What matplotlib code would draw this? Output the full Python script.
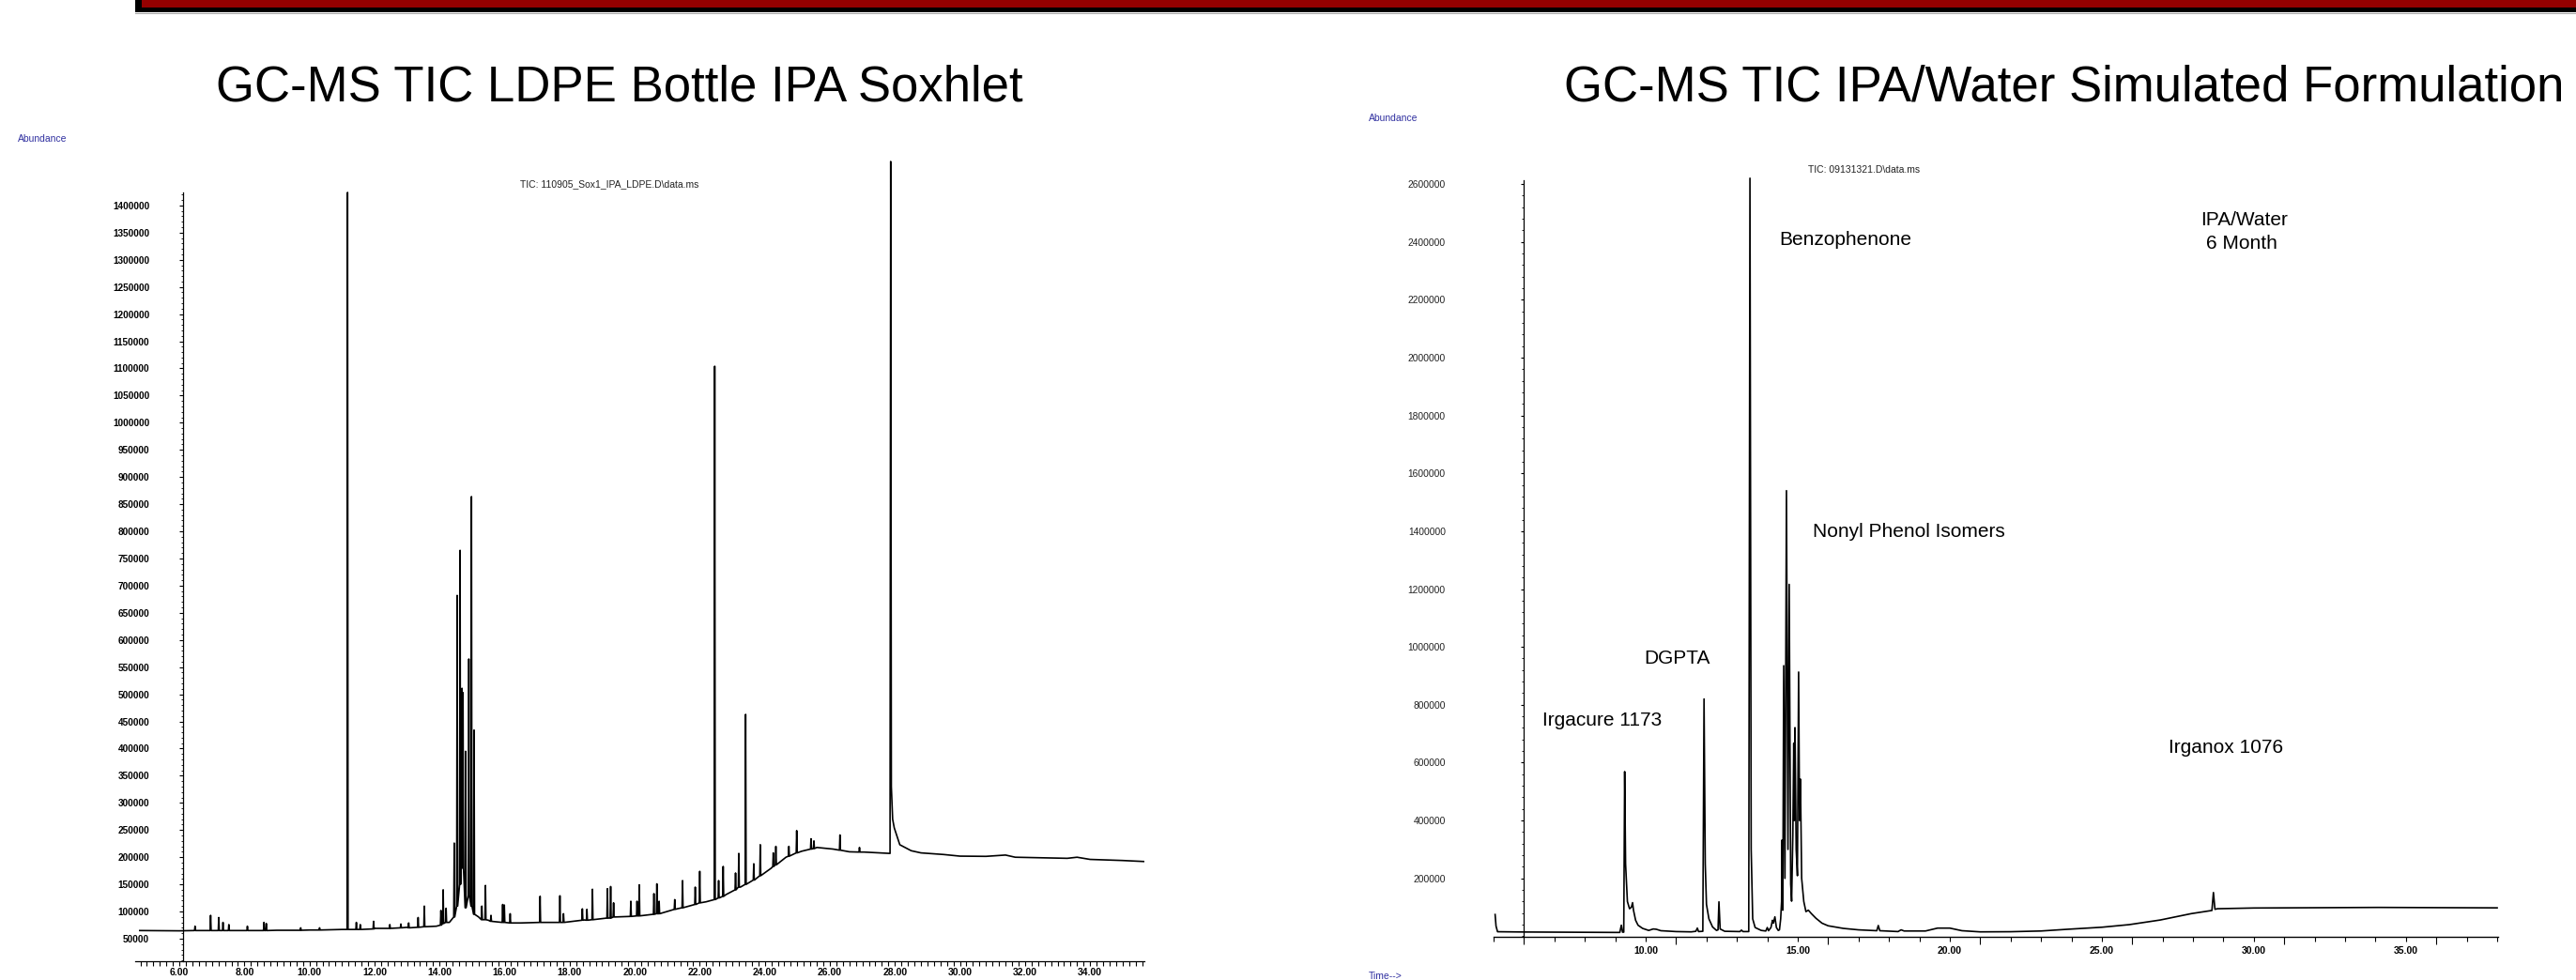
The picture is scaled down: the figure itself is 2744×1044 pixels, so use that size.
import numpy as np
import matplotlib
matplotlib.use("Agg")
import matplotlib.pyplot as plt
from matplotlib.patches import Rectangle
from matplotlib.lines import Line2D

plt.rcParams['font.family'] = ['Liberation Sans', 'DejaVu Sans']

# --- Left chromatogram: LDPE bottle IPA soxhlet (time in min, abundance) ---
left_base_t = [4.78, 6.0, 7.0, 8.0, 9.0, 10.0, 11.0, 12.0, 13.0, 13.9, 14.3, 15.2, 15.5,
               16.5, 17.4, 18.45, 19.4, 20.3, 21.3, 22.2, 22.8, 23.25, 23.7, 24.2, 24.65,
               25.13, 25.6, 26.1, 26.6, 27.05, 27.5, 27.85, 27.87, 27.89, 27.93, 27.98,
               28.15, 28.5, 28.8, 29.5, 30.0, 30.8, 31.4, 31.7, 32.5, 33.3, 33.6, 34.0,
               35.0, 35.7]
left_base_v = [65000, 64500, 65000, 65000, 65500, 66000, 67000, 69000, 71000, 73000, 80000,
               90000, 84000, 79000, 80000, 84500, 90000, 93000, 105000, 118000, 131000,
               145000, 159000, 180000, 200000, 211000, 218000, 215000, 210000, 209500,
               208000, 207000, 1481000, 330000, 270000, 254000, 223000, 212000, 208000,
               205000, 202000, 201600, 204000, 200000, 199000, 198000, 200000, 196000,
               194000, 192000]

left_peak_t = [6.48, 6.96, 7.21, 7.34, 7.52, 8.09, 8.6, 8.67, 9.73, 10.31, 11.17, 11.44,
               11.56, 11.97, 12.47, 12.81, 13.05, 13.34, 13.53, 14.04, 14.11, 14.2, 14.45,
               14.54, 14.63, 14.69, 14.72, 14.8, 14.9, 14.98, 15.06, 15.3, 15.41, 15.58,
               15.94, 15.99, 16.17, 17.09, 17.7, 17.81, 18.39, 18.53, 18.7, 19.16, 19.26,
               19.35, 19.88, 20.07, 20.14, 20.59, 20.68, 20.75, 21.23, 21.47, 21.86, 22.0,
               22.46, 22.58, 22.72, 23.1, 23.2, 23.41, 23.66, 23.86, 24.26, 24.34, 24.74,
               24.98, 25.42, 25.51, 26.31, 26.91]
left_peak_top = [73000, 93000, 89000, 80000, 76000, 73000, 80000, 78000, 70000, 70000,
                 1424000, 80000, 76000, 82000, 76000, 77000, 79000, 89000, 110000, 102000,
                 140000, 106000, 226000, 682000, 765000, 511000, 503000, 395000, 565000,
                 864000, 434000, 110000, 148000, 93000, 113000, 112000, 96000, 128000,
                 129000, 96000, 105000, 104000, 141000, 142000, 146000, 116000, 119000,
                 119000, 149000, 133000, 151000, 119000, 122000, 157000, 145000, 174000,
                 1104000, 157000, 183000, 171000, 207000, 463000, 188000, 223000, 208000,
                 220000, 220000, 249000, 234000, 230000, 241000, 218000]
left_peak_foot = [65000, 65000, 65000, 65000, 65000, 65000, 65000, 65000, 65500, 66000,
                  67000, 67000, 67000, 68000, 69000, 70000, 70000, 71000, 72000, 75000,
                  78000, 80000, 90000, 110000, 150000, 200000, 180000, 107000, 130000,
                  110000, 95000, 85000, 85000, 82000, 80000, 80000, 79000, 80000, 80000,
                  80000, 84000, 84000, 85000, 88000, 88000, 90000, 91000, 92000, 92000,
                  95000, 96000, 96000, 104000, 107000, 113000, 116000, 122000, 125000,
                  128000, 140000, 145000, 150000, 158000, 166000, 183000, 186000, 202000,
                  208000, 215000, 216000, 213000, 209500]

left_xtick_vals = [6, 8, 10, 12, 14, 16, 18, 20, 22, 24, 26, 28, 30, 32, 34]
left_xtick_labels = ["6.00", "8.00", "10.00", "12.00", "14.00", "16.00", "18.00", "20.00",
                     "22.00", "24.00", "26.00", "28.00", "30.00", "32.00", "34.00"]
left_ytick_vals = list(range(50000, 1400001, 50000))
left_ytick_labels = [str(v) for v in left_ytick_vals]

# --- Right chromatogram: IPA/Water simulated formulation ---
right_t = [5.05, 5.08, 5.13, 6.0, 7.0, 8.0, 9.0, 9.15, 9.2, 9.24, 9.28, 9.31, 9.34, 9.4,
           9.47, 9.53, 9.57, 9.6, 9.67, 9.75, 9.9, 10.1, 10.25, 10.35, 10.5, 11.0, 11.5,
           11.65, 11.7, 11.74, 11.88, 11.92, 11.96, 12.0, 12.08, 12.2, 12.33, 12.38, 12.41,
           12.45, 12.6, 13.1, 13.15, 13.2, 13.39, 13.43, 13.47, 13.52, 13.6, 13.8, 13.95,
           14.0, 14.04, 14.12, 14.17, 14.2, 14.25, 14.3, 14.36, 14.4, 14.44, 14.47, 14.48,
           14.51, 14.54, 14.58, 14.63, 14.68, 14.72, 14.77, 14.8, 14.84, 14.87, 14.89,
           14.91, 14.95, 14.99, 15.03, 15.06, 15.09, 15.13, 15.2, 15.27, 15.35, 15.45,
           15.6, 15.8, 16.0, 16.5, 17.0, 17.6, 17.65, 17.7, 18.3, 18.4, 18.5, 19.2, 19.6,
           20.0, 20.4, 21.0, 22.0, 23.0, 23.85, 25.0, 25.9, 26.92, 27.94, 28.62, 28.67,
           28.72, 28.8, 30.0, 34.1, 38.0]
right_v = [75000, 35000, 15500, 14500, 14000, 13500, 13000, 13000, 38000, 14000, 14000,
           569000, 250000, 120000, 95000, 100000, 116000, 90000, 55000, 38000, 27000,
           20000, 25000, 24000, 19000, 16000, 15000, 17000, 28000, 16000, 17000, 820000,
           250000, 110000, 60000, 32000, 20000, 22000, 119000, 25000, 17000, 16000, 21000,
           16000, 16000, 2620000, 300000, 60000, 30000, 20000, 18000, 30000, 19000, 30000,
           55000, 45000, 67000, 30000, 20000, 22000, 60000, 120000, 332000, 90000, 935000,
           200000, 1540000, 300000, 1216000, 180000, 121000, 350000, 667000, 400000,
           721000, 300000, 209000, 913000, 400000, 543000, 200000, 120000, 85000, 90000,
           78000, 62000, 45000, 36000, 27000, 22000, 19000, 37000, 19000, 16000, 22000,
           18000, 18000, 28000, 28000, 19000, 15000, 15500, 18000, 23800, 31000, 40000,
           56000, 78000, 89000, 151000, 93000, 95000, 97500, 99500, 98000]

right_xtick_major = [6, 11, 16, 21, 26, 31, 36]
right_xtick_minor = [5, 7, 8, 9, 10, 12, 13, 14, 15, 17, 18, 19, 20, 22, 23, 24, 25, 27,
                     28, 29, 30, 32, 33, 34, 35, 37, 38]
right_xtick_minor_labels = [f"{t:.2f}" if t % 5 == 0 and t >= 10 else ""
                            for t in right_xtick_minor]
right_ytick_vals = list(range(200000, 2600001, 200000))
right_ytick_labels = [str(v) for v in right_ytick_vals]

annotations = [("Benzophenone", 14.4, 2389000), ("IPA/Water", 28.25, 2457000),
               ("6 Month", 28.43, 2376000), ("Nonyl Phenol Isomers", 15.49, 1378500),
               ("DGPTA", 9.94, 943000), ("Irgacure 1173", 6.62, 729000),
               ("Irganox 1076", 27.2, 635000)]

# --- build the left trace: baseline knots plus narrow spikes ---
half_w = 0.015
pts = list(zip(left_base_t, left_base_v))
for t, top, foot in zip(left_peak_t, left_peak_top, left_peak_foot):
    pts += [(t - half_w, foot), (t, top), (t + half_w, foot)]
pts.sort()
left_t = [p[0] for p in pts]
left_v = [p[1] for p in pts]

W, H = 2744, 1044
fig = plt.figure(figsize=(W / 100, H / 100), dpi=100)


def fx(px):
    return px / W


def fy(py):
    return 1 - py / H


# --- slide decoration ---
fig.add_artist(Rectangle((fx(144), fy(12.5)), 1 - fx(144), 12.5 / H,
                         transform=fig.transFigure, color="black", lw=0))
fig.add_artist(Rectangle((fx(151), fy(8)), 1 - fx(151), 8 / H + 0.002,
                         transform=fig.transFigure, color="#950000", lw=0))
fig.add_artist(Line2D([fx(144), 1], [fy(13.5)] * 2, transform=fig.transFigure,
                      color="#aaaaaa", lw=0.8))

fig.text(fx(660), fy(108), "GC-MS TIC LDPE Bottle IPA Soxhlet", ha="center",
         va="baseline", fontsize=38)
fig.text(fx(1666), fy(108), "GC-MS TIC IPA/Water Simulated Formulation", ha="left",
         va="baseline", fontsize=38)

blue = "#3030a0"
fig.text(fx(19), fy(148), "Abundance", color=blue, fontsize=7.5, va="center")
fig.text(fx(1458), fy(126), "Abundance", color=blue, fontsize=7.5, va="center")
fig.text(fx(1458), fy(1040), "Time-->", color=blue, fontsize=7.5, va="center")
fig.text(fx(649), fy(196), "TIC: 110905_Sox1_IPA_LDPE.D\\data.ms", ha="center",
         va="center", fontsize=7.5, color="#222222")
fig.text(fx(1985.5), fy(181), "TIC: 09131321.D\\data.ms", ha="center", va="center",
         fontsize=7.5, color="#222222")

# --- left chart ---
axL = fig.add_axes([fx(144), fy(1024), (1219 - 144) / W, (1024 - 170) / H])
axL.patch.set_alpha(0)
axL.plot(left_t, left_v, color="black", lw=1.2)
axL.set_xlim(4.64, 35.67)
axL.set_ylim(8520, 1484500)
axL.spines["top"].set_visible(False)
axL.spines["right"].set_visible(False)
axL.spines["left"].set_position(("data", 6.12))
axL.spines["left"].set_bounds(8520, 1424000)
axL.spines["left"].set_linewidth(0.9)
axL.spines["bottom"].set_linewidth(0.9)
axL.set_yticks(left_ytick_vals)
axL.set_yticklabels(left_ytick_labels, fontweight="bold", fontsize=7.2)
axL.set_yticks(np.arange(10000, 1424000, 10000), minor=True)
axL.tick_params(axis="y", which="major", length=3, width=0.8, pad=23)
axL.tick_params(axis="y", which="minor", length=1.5, width=0.6)
axL.set_xticks(left_xtick_vals)
axL.set_xticklabels(left_xtick_labels, fontweight="bold", fontsize=7.5)
axL.set_xticks(np.arange(4.8, 35.7, 0.2), minor=True)
axL.tick_params(axis="x", which="both", length=3.6, width=0.8, pad=1.5)

# --- right chart ---
axR = fig.add_axes([fx(1591), fy(998.3), (2661 - 1591) / W, (998.3 - 186) / H])
axR.patch.set_alpha(0)
axR.plot(right_t, right_v, color="black", lw=1.2)
axR.set_xlim(5.108, 38.03)
axR.set_ylim(-3100, 2632500)
axR.spines["top"].set_visible(False)
axR.spines["right"].set_visible(False)
axR.spines["left"].set_position(("data", 6.0))
axR.spines["left"].set_bounds(-3100, 2613000)
axR.spines["left"].set_linewidth(0.9)
axR.spines["bottom"].set_linewidth(1.0)
axR.set_yticks(right_ytick_vals)
axR.set_yticklabels(right_ytick_labels, fontsize=7.4, color="#222222")
axR.set_yticks(np.arange(0, 2613000, 40000), minor=True)
axR.tick_params(axis="y", which="major", length=2.2, width=0.8, pad=58)
axR.tick_params(axis="y", which="minor", length=1.4, width=0.6)
axR.set_xticks(right_xtick_major)
axR.set_xticklabels([""] * len(right_xtick_major))
axR.set_xticks(right_xtick_minor, minor=True)
axR.set_xticklabels(right_xtick_minor_labels, minor=True, fontweight="bold", fontsize=7.5)
axR.tick_params(axis="x", which="major", length=5.8, width=0.8)
axR.tick_params(axis="x", which="minor", length=3.6, width=0.8, pad=3.3)

for label, t, v in annotations:
    axR.text(t, v, label, fontsize=15, va="baseline", ha="left")

fig.savefig("out.png", dpi=100)
